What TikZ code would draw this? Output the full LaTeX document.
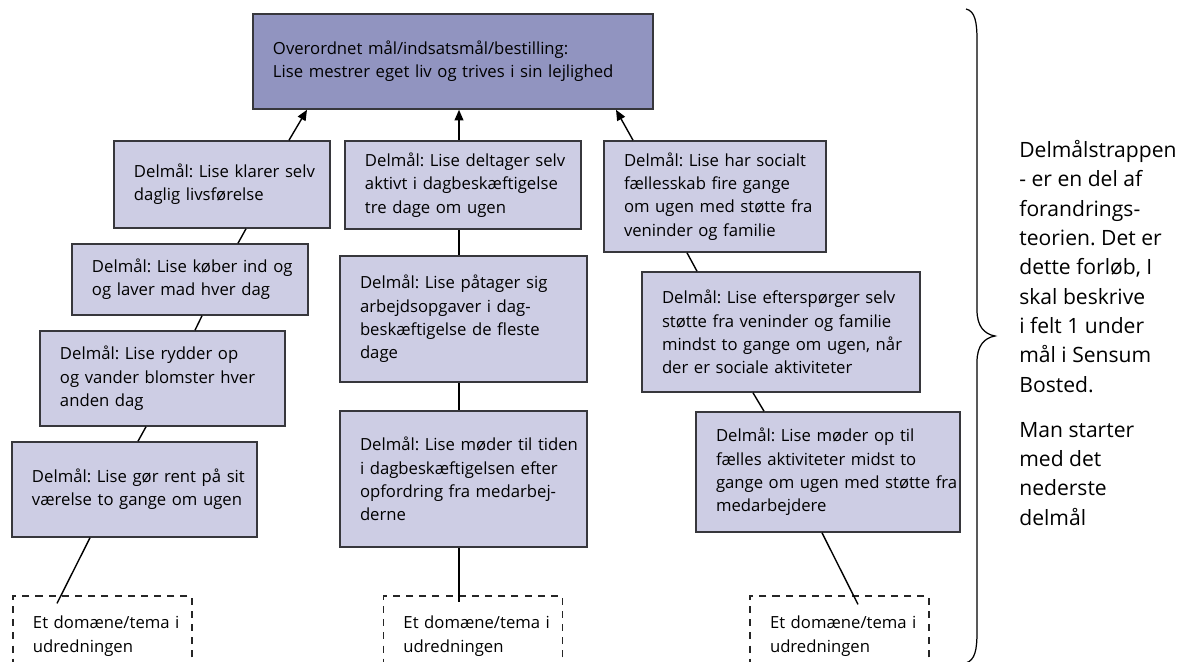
\documentclass[tikz,border=0pt]{standalone}
\usepackage{fontspec}
\setmainfont{Open Sans}
\usetikzlibrary{arrows.meta,calc}
\frenchspacing
\definecolor{topfill}{RGB}{145,148,192}
\definecolor{subfill}{RGB}{205,205,228}
\definecolor{edgegray}{RGB}{55,55,60}
\newcommand{\boxfont}{\fontsize{9.5}{13.3}\selectfont}
\tikzset{
  box/.style 2 args = {rectangle, draw=edgegray, line width=0.9pt,
                fill=subfill, inner xsep=0.04cm, inner ysep=0pt,
                text width={(#1-4)*0.02cm}, minimum height={#2*0.02cm},
                align=left, font=\boxfont,
                execute at begin node={\leftskip=0.36cm}},
  topbox/.style 2 args = {box={#1}{#2}, fill=topfill},
  src/.style  = {box={179}{80}, fill=none, draw=black!85, line width=0.7pt,
                 dash pattern=on 4pt off 3.5pt},
  arr/.style  = {-{Triangle[length=6pt,width=5pt]}, line width=0.8pt},
  con/.style  = {line width=0.8pt},
  note/.style = {anchor=north west, inner sep=0pt, align=left,
                 font=\fontsize{12}{16.7}\selectfont}
}

\begin{document}
\begin{tikzpicture}[x=0.02cm, y=-0.02cm]
  \useasboundingbox (0,0) rectangle (1184,662);

  % overall goal
  \node[topbox={400}{95}] (goal) at (453,61.5)
    {Overordnet mål/indsatsmål/bestilling:\\Lise mestrer eget liv og trives i sin lejlighed};

  % left stair
  \node[box={216}{87}]  (l1) at (222,184.5) {Delmål: Lise klarer selv\\daglig livsførelse};
  \node[box={236}{71}]  (l2) at (190,279.5) {Delmål: Lise køber ind og\\og laver mad hver dag};
  \node[box={245}{95}]  (l3) at (162.5,378.5) {Delmål: Lise rydder op\\og vander blomster hver\\anden dag};
  \node[box={245}{95}]  (l4) at (134.5,489.5) {Delmål: Lise gør rent på sit\\værelse to gange om ugen};

  % middle stair
  \node[box={236}{88}]  (m1) at (463,185) {Delmål: Lise deltager selv\\aktivt i dagbeskæftigelse\\tre dage om ugen};
  \node[box={247}{126}] (m2) at (463.5,319) {Delmål: Lise påtager sig\\arbejdsopgaver i dag-\\beskæftigelse de fleste\\dage};
  \node[box={247}{136}] (m3) at (463.5,479) {Delmål: Lise møder til tiden\\i dagbeskæftigelsen efter\\opfordring fra medarbej-\\derne};

  % right stair
  \node[box={222}{111}] (r1) at (715,196.5) {Delmål: Lise har socialt\\fællesskab fire gange\\om ugen med støtte fra\\veninder og familie};
  \node[box={278}{120}] (r2) at (781,332) {Delmål: Lise efterspørger selv\\støtte fra veninder og familie\\mindst to gange om ugen, når\\der er sociale aktiviteter};
  \node[box={264}{120}] (r3) at (828,472) {Delmål: Lise møder op til\\fælles aktiviteter midst to\\gange om ugen med støtte fra\\medarbejdere};

  % domains
  \node[src] (dl) at (102.5,636) {Et domæne/tema i\\udredningen};
  \node[src] (dm) at (473,636)   {Et domæne/tema i\\udredningen};
  \node[src] (dr) at (839.5,636) {Et domæne/tema i\\udredningen};

  % arrows to the goal
  \draw[arr] ($(l1.north)+(67,0)$) -- ($(goal.south)+(-146,0)$);
  \draw[arr] ($(m1.north)+(-4,0)$) -- ($(goal.south)+(6,0)$);
  \draw[arr] ($(r1.north)+(-82,0)$) -- ($(goal.south)+(163,0)$);

  % steps
  \draw[con] ($(l1.south)+(24,0)$) -- ($(l2.north)+(48,0)$);
  \draw[con] ($(l2.south)+(12,0)$) -- ($(l3.north)+(32.5,0)$);
  \draw[con] ($(l3.south)+(-16.5,0)$) -- ($(l4.north)+(3.5,0)$);
  \draw[con] ($(l4.south)+(-44.5,0)$) -- ($(dl.north)+(-45.5,8)$);

  \draw[con] ($(m1.south)+(-4,0)$) -- ($(m2.north)+(-4.5,0)$);
  \draw[con] ($(m2.south)+(-4.5,0)$) -- ($(m3.north)+(-4.5,0)$);
  \draw[con] ($(m3.south)+(-4.5,0)$) -- ($(dm.north)+(-14,7)$);

  \draw[con] ($(r1.south)+(-28,0)$) -- ($(r2.north)+(-84,0)$);
  \draw[con] ($(r2.south)+(-28,0)$) -- ($(r3.north)+(-64,0)$);
  \draw[con] ($(r3.south)+(-6,0)$) -- ($(dr.north)+(18.5,9)$);

  % brace and side note
  \draw[line width=0.7pt] (966,9) .. controls (975,11) and (977,22) .. (977,40)
    -- (977,310) .. controls (977,326) and (984,334) .. (995,336)
    .. controls (984,338) and (977,346) .. (977,362)
    -- (977,632) .. controls (977,650) and (975,660) .. (966,663);

  \node[note] (txt) at (1019,140) {Delmålstrappen\\- er en del af\\forandrings-\\teorien. Det er\\dette forløb, I\\skal beskrive\\i felt 1 under\\mål i Sensum\\Bosted.\\[8.8pt]Man starter\\med det\\nederste\\delmål};
\end{tikzpicture}
\end{document}
